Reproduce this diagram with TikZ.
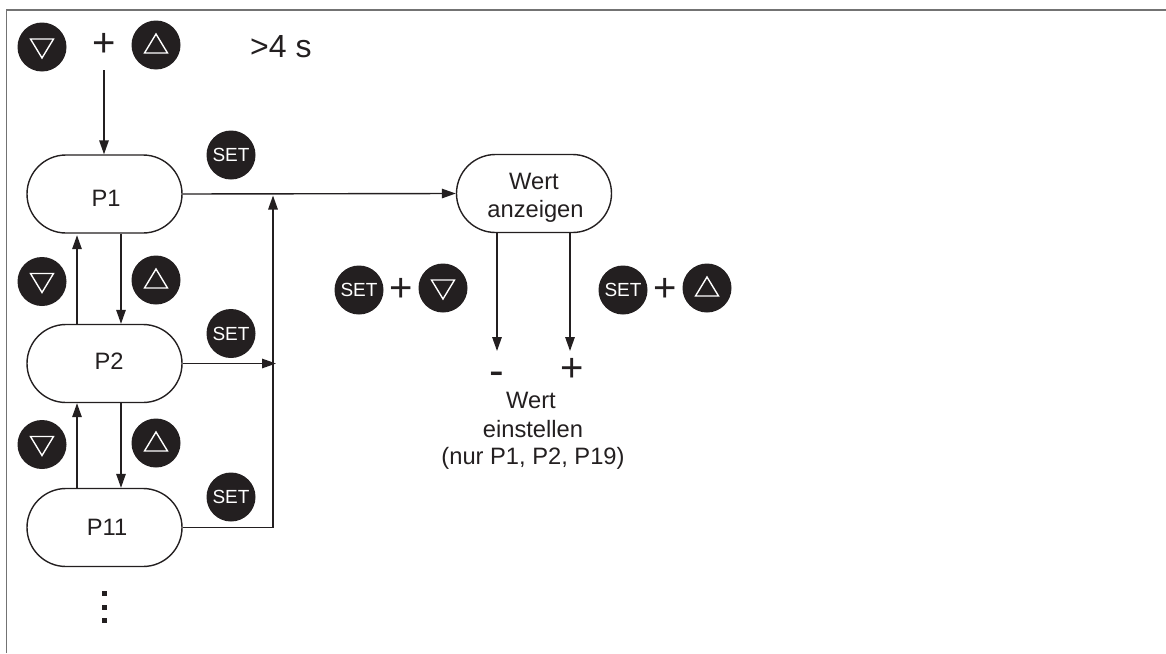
\documentclass[tikz,border=0pt]{standalone}
\usepackage{fontspec}
\setmainfont{Liberation Sans}
\usetikzlibrary{arrows.meta,shapes.misc}
\definecolor{ink}{HTML}{231F20}
\tikzset{
  pill/.style={draw=ink,line width=1.4pt,rounded rectangle,minimum width=155pt,minimum height=78pt,inner sep=0pt,align=center,text=ink,font=\fontsize{23.7}{28}\selectfont},
  btn/.style={circle,fill=ink,minimum size=49pt,inner sep=0pt,text=white},
  btnset/.style={btn,font=\fontsize{19}{19}\selectfont},
  btnup/.style={btn,path picture={\draw[white,line width=1.4pt,line join=miter] ([shift={(-11.5pt,-8pt)}]path picture bounding box.center) -- ++(23pt,0) -- ++(-11.5pt,19pt) -- cycle;}},
  btndown/.style={btn,path picture={\draw[white,line width=1.4pt,line join=miter] ([shift={(-11.5pt,8pt)}]path picture bounding box.center) -- ++(23pt,0) -- ++(-11.5pt,-19pt) -- cycle;}},
  label/.style={inner sep=0pt,text=ink,font=\fontsize{23.7}{24}\selectfont},
  sym/.style={inner sep=0pt,text=ink,font=\fontsize{40}{40}\selectfont},
  symdash/.style={inner sep=0pt,text=ink,font=\fontsize{44}{44}\selectfont},
  conn/.style={draw=ink,line width=1.4pt},
  arr/.style={conn,-{Triangle[length=14pt,width=9.5pt]}},
  dotmark/.style={fill=ink,minimum size=5pt,inner sep=0pt}
}
\begin{document}
\begin{tikzpicture}[x=1pt,y=-1pt]
\useasboundingbox (0,0) rectangle (1166,653);
\coordinate (tl) at (6.5,10);
\coordinate (tr) at (1166,10);
\coordinate (bl) at (6.5,653);
\draw[draw=black!55,line width=1.4pt] (bl) -- (tl) -- (tr);
\coordinate (xa) at (77,0);
\coordinate (xb) at (121,0);
\coordinate (xc) at (273,0);
\coordinate (xg) at (276,0);
\coordinate (xd) at (497,0);
\coordinate (xe) at (570,0);
\coordinate (stop) at (0,351);
% top row
\node[btndown] (d0) at (42,47) {};
\node[sym] (plus0) at (104.5,44.5) {+};
\node[btnup] (u0) at (156,45) {};
\node[inner sep=0pt,text=ink,font=\fontsize{32}{32}\selectfont,anchor=base west] (time) at (250,57) {>4 s};
\coordinate (start) at (104,70);
% states
\node[pill] (p1) at (104.5,194) {\kern3pt\rule{0pt}{24pt}P1};
\node[pill] (p2) at (104.5,363.5) {\kern9pt\rule[-4pt]{0pt}{4pt}P2};
\node[pill] (p11) at (104.5,527.5) {\kern5pt P11};
\node[pill] (w) at (534,193.5) {\rule{0pt}{25pt}Wert\\\kern3pt anzeigen};
% buttons
\node[btnset] (s1) at (231,155) {SET};
\node[btnset] (s2) at (231,333.5) {SET};
\node[btnset] (s3) at (231,497) {SET};
\node[btndown] (d1) at (42,281.5) {};
\node[btnup] (u1) at (156,280) {};
\node[btndown] (d2) at (42,444.5) {};
\node[btnup] (u2) at (156,443) {};
\node[btnset] (s4) at (359,290) {SET};
\node[sym] (plus1) at (401,290) {+};
\node[btndown] (d3) at (443,288) {};
\node[btnset] (s5) at (623,290) {SET};
\node[sym] (plus2) at (665,290) {+};
\node[btnup] (u3) at (707,288) {};
% result
\node[symdash] (minus) at (497,379) {-};
\node[sym] (plus3) at (572,369.5) {+};
\node[label] (t1) at (531,400) {Wert};
\node[label] (t2) at (533,429) {einstellen};
\node[label] (t3) at (533,458) {(nur P1, P2, P19)};
% dots
\node[dotmark] (m1) at (104,593.5) {};
\node[dotmark] (m2) at (104,607) {};
\node[dotmark] (m3) at (104,620) {};
% connectors
\draw[arr] (start) -- (p1.north -| start);
\draw[arr,shorten >=1.5pt] (p2.north -| xa) -- (p1.south -| xa);
\draw[arr] (p1.south -| xb) -- (p2.north -| xb);
\draw[arr] (p11.north -| xa) -- (p2.south -| xa);
\draw[arr] (p2.south -| xb) -- (p11.north -| xb);
\draw[arr] (p1.east) -- (w.west);
\draw[arr] (p2.east) -- (p2.east -| xg);
\draw[arr,shorten >=1.5pt] (p11.east) -- (p11.east -| xc) -- (p1.east -| xc);
\draw[arr] (w.south -| xd) -- (stop -| xd);
\draw[arr] (w.south -| xe) -- (stop -| xe);
\end{tikzpicture}
\end{document}
